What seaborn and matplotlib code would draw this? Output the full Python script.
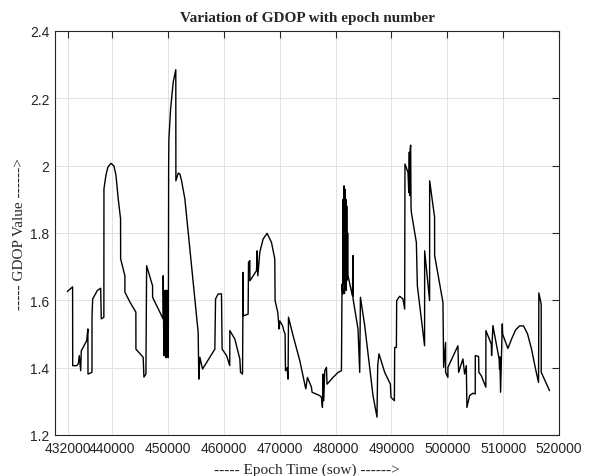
import matplotlib
matplotlib.use("Agg")
import matplotlib.pyplot as plt
import seaborn as sns
import pandas as pd
from matplotlib.ticker import FuncFormatter

epoch = [
    431950, 432900, 432920, 433630, 433920, 434100, 434350, 434455, 435420, 435640,
    435660, 436370, 436380, 436495, 437320, 437925, 438035, 438500, 438516, 438874,
    439232, 439768, 440305, 440663, 441074, 441490, 441504, 442260, 442273, 443168,
    444230, 444241, 445540, 445672, 446030, 446155, 447220, 447229, 449110, 449125,
    449250, 449330, 449400, 449480, 449560, 449640, 449720, 449800, 449880, 449960,
    450040, 450100, 450145, 450449, 450914, 451380, 451397, 451808, 452113, 452417,
    453007, 453597, 454492, 455386, 455500, 455691, 456174, 458374, 458499, 458964,
    459560, 459680, 460467, 461040, 461058, 461952, 462847, 462972, 463330, 463437,
    463450, 464331, 464403, 464636, 464650, 465834, 465941, 466067, 466425, 467015,
    467730, 468518, 469108, 469162, 469645, 469877, 470003, 470485, 470718, 470950,
    471022, 471300, 471487, 471559, 472382, 473581, 474654, 474958, 475674, 475781,
    477159, 477463, 477642, 477750, 477874, 478053, 478357, 478464, 479538, 480432,
    481041, 481148, 481273, 481350, 481430, 481510, 481590, 481670, 481750, 481830,
    481910, 481990, 482070, 482150, 482221, 483009, 483116, 483130, 484010, 484315,
    484440, 485209, 485978, 486694, 487409, 487535, 487767, 488787, 489807, 489914,
    490522, 490576, 490880, 490934, 491471, 492061, 492365, 492419, 492955, 493100,
    493200, 493260, 493350, 493438, 493500, 493563, 494458, 494637, 495930, 495943,
    496830, 496838, 497720, 497732, 499217, 499342, 499690, 499700, 500100, 500111,
    501900, 502026, 502795, 503099, 503403, 503510, 503994, 504584, 505000, 505013,
    505604, 505657, 506087, 506900, 506910, 507876, 507929, 508162, 509271, 509361,
    509414, 509539, 509844, 509897, 510845, 511507, 512223, 512939, 513654, 514370,
    515085, 515801, 516338, 516391, 516810, 516821, 518306,
]
gdop = [
    1.626, 1.640, 1.406, 1.406, 1.411, 1.436, 1.391, 1.450, 1.480, 1.515,
    1.381, 1.386, 1.554, 1.604, 1.629, 1.636, 1.545, 1.550, 1.931, 1.972,
    1.996, 2.007, 1.999, 1.972, 1.901, 1.842, 1.723, 1.673, 1.624, 1.595,
    1.565, 1.455, 1.431, 1.372, 1.381, 1.703, 1.643, 1.609, 1.545, 1.673,
    1.436, 1.620, 1.440, 1.630, 1.430, 1.620, 1.430, 1.630, 1.440, 1.620,
    1.430, 2.000, 2.079, 2.168, 2.248, 2.285, 1.955, 1.978, 1.975, 1.955,
    1.901, 1.802, 1.654, 1.505, 1.366, 1.431, 1.396, 1.455, 1.604, 1.619,
    1.619, 1.455, 1.436, 1.406, 1.510, 1.485, 1.426, 1.386, 1.381, 1.683,
    1.554, 1.559, 1.713, 1.718, 1.658, 1.688, 1.747, 1.673, 1.743, 1.782,
    1.799, 1.772, 1.723, 1.599, 1.564, 1.515, 1.539, 1.525, 1.510, 1.500,
    1.391, 1.400, 1.366, 1.550, 1.495, 1.421, 1.337, 1.371, 1.342, 1.327,
    1.317, 1.312, 1.282, 1.381, 1.302, 1.391, 1.401, 1.351, 1.371, 1.386,
    1.391, 1.648, 1.619, 1.900, 1.650, 1.940, 1.620, 1.930, 1.660, 1.900,
    1.630, 1.880, 1.660, 1.800, 1.673, 1.613, 1.733, 1.604, 1.515, 1.386,
    1.609, 1.525, 1.416, 1.317, 1.253, 1.406, 1.441, 1.386, 1.351, 1.312,
    1.302, 1.460, 1.460, 1.599, 1.612, 1.604, 1.574, 2.005, 1.980, 1.920,
    2.040, 1.911, 2.050, 2.061, 1.880, 1.861, 1.772, 1.643, 1.465, 1.747,
    1.599, 1.955, 1.847, 1.733, 1.594, 1.401, 1.475, 1.386, 1.371, 1.401,
    1.465, 1.386, 1.426, 1.381, 1.406, 1.282, 1.317, 1.324, 1.322, 1.436,
    1.433, 1.386, 1.376, 1.342, 1.510, 1.470, 1.436, 1.525, 1.426, 1.396,
    1.432, 1.327, 1.530, 1.500, 1.457, 1.485, 1.512, 1.524, 1.524, 1.500,
    1.455, 1.396, 1.356, 1.622, 1.589, 1.386, 1.332,
]
xticks = [432000, 440000, 450000, 460000, 470000, 480000, 490000, 500000, 510000, 520000]
yticks = [1.2, 1.4, 1.6, 1.8, 2.0, 2.2, 2.4]

title = "Variation of GDOP with epoch number"
xlabel = "----- Epoch Time (sow) ------>"
ylabel = "----- GDOP Value ------>"

sns.set_style("white")
plt.rcParams["font.family"] = ["Liberation Sans", "DejaVu Sans"]

df = pd.DataFrame({"epoch": epoch, "gdop": gdop})

fig = plt.figure(figsize=(5.93, 4.77), dpi=100)
ax = fig.add_axes([55 / 593, 1 - 436 / 477, (559 - 55) / 593, (436 - 32) / 477])
sns.lineplot(data=df, x="epoch", y="gdop", sort=False, estimator=None,
             color="black", linewidth=1.0, ax=ax)

ax.set_xlim(429750, 520000)
ax.set_ylim(1.2, 2.4)
ax.set_xticks(xticks)
ax.set_yticks(yticks)
ax.xaxis.set_major_formatter(FuncFormatter(lambda v, p: f"{int(round(v))}"))
ax.yaxis.set_major_formatter(FuncFormatter(lambda v, p: f"{v:g}"))

ax.grid(True, color="#e2e2e2", linewidth=0.7)
ax.set_axisbelow(True)
for s in ax.spines.values():
    s.set_visible(True)
    s.set_color("#262626")
    s.set_linewidth(0.8)
ax.tick_params(direction="in", length=5, width=0.8, colors="#262626",
               labelsize=10, top=True, right=True, pad=4)

ax.set_title(title, family="Liberation Serif", fontweight="bold", fontsize=11, pad=7)
ax.set_xlabel(xlabel, family="Liberation Serif", fontsize=11, color="#262626", labelpad=6)
ax.set_ylabel(ylabel, family="Liberation Serif", fontsize=11, color="#262626", labelpad=3)

fig.savefig("out.png", dpi=100, facecolor="white")
